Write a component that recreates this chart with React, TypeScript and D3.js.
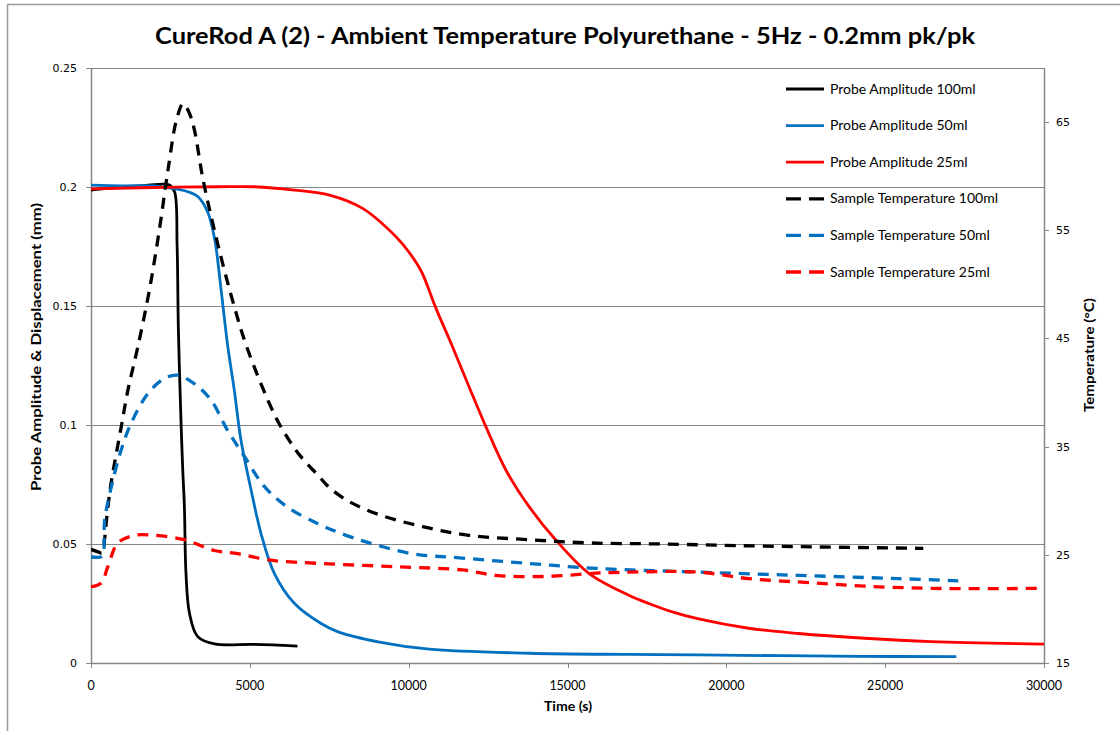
import React from "react";
import * as d3 from "d3";

// ---- Data ----
const probe100T = [0, 600, 1200, 1800, 2470, 2630, 2710, 2750, 2840, 2890, 2940, 2990, 3100, 3360, 3890, 5140, 6500];
const probe100V = [0.1987, 0.1995, 0.2001, 0.2008, 0.2008, 0.198, 0.1756, 0.1406, 0.0986, 0.0807, 0.0657, 0.0377, 0.0209, 0.0111, 0.008, 0.0078, 0.0071];

const probe50T = [0, 1000, 2000, 2520, 3050, 3360, 3670, 3890, 4090, 4300, 4510, 4720, 5040, 5350, 5770, 6400, 7230, 7760, 9080, 10650, 13790, 16930, 19130, 24150, 27240];
const probe50V = [0.2008, 0.2005, 0.2005, 0.1995, 0.198, 0.196, 0.1896, 0.1784, 0.1574, 0.1336, 0.1147, 0.0937, 0.0727, 0.0545, 0.0377, 0.0251, 0.0167, 0.0132, 0.0088, 0.0058, 0.0041, 0.0036, 0.0034, 0.0028, 0.0027];

const probe25T = [0, 2000, 4000, 5140, 6400, 7510, 8550, 9600, 10000, 10400, 10860, 11380, 11900, 12430, 13060, 13790, 14630, 15670, 16930, 17560, 18300, 19130, 20700, 22270, 24360, 26460, 30000];
const probe25V = [0.1992, 0.1998, 0.2001, 0.2001, 0.1987, 0.1966, 0.191, 0.1791, 0.1728, 0.1645, 0.1490, 0.1329, 0.1161, 0.0993, 0.0811, 0.0657, 0.0517, 0.0377, 0.0285, 0.025, 0.0215, 0.0185, 0.0146, 0.0124, 0.0104, 0.009, 0.0079];

const temp100T = [0, 200, 350, 430, 480, 600, 700, 950, 1160, 1480, 1840, 2160, 2420, 2700, 2900, 3100, 3260, 3520, 3885, 4410, 4930, 5770, 6190, 6600, 7130, 7510, 8140, 9080, 10440, 11900, 13790, 15670, 18000, 21220, 26200];
const temp100C = [25.5, 25.3, 25.2, 26.5, 28.0, 31.0, 32.8, 36.8, 40.2, 44.3, 49.5, 55.2, 60.5, 65.3, 66.7, 65.8, 64.2, 59.8, 55.0, 49.0, 44.0, 38.0, 35.8, 34.1, 32.4, 31.2, 29.9, 28.7, 27.6, 26.8, 26.4, 26.1, 26.0, 25.8, 25.6];

const temp50T = [0, 300, 380, 430, 640, 950, 1270, 1790, 2310, 2730, 3260, 3780, 4300, 4830, 5460, 6190, 7130, 7760, 8760, 10120, 11690, 13790, 15880, 19130, 22270, 25410, 27300];
const temp50C = [24.8, 24.8, 25.0, 28.2, 31.3, 34.7, 37.2, 39.9, 41.3, 41.6, 40.8, 39.3, 36.5, 34.1, 31.3, 29.4, 27.9, 27.1, 26.1, 25.1, 24.7, 24.2, 23.75, 23.4, 23.1, 22.8, 22.6];

const temp25T = [0, 320, 530, 850, 1370, 2000, 2940, 3880, 4620, 5660, 7230, 9600, 11690, 12740, 14310, 15880, 16930, 19130, 20700, 22790, 24360, 26450, 30000];
const temp25C = [22.05, 22.4, 23.9, 26.1, 26.8, 26.8, 26.4, 25.4, 25.1, 24.5, 24.2, 23.9, 23.6, 23.1, 23.0, 23.3, 23.4, 23.4, 22.8, 22.4, 22.1, 21.9, 21.9];

const xTicks = [0, 5000, 10000, 15000, 20000, 25000, 30000];
const yLeftTicks = [0, 0.05, 0.1, 0.15, 0.2, 0.25];
const yRightTicks = [15, 25, 35, 45, 55, 65];

const legendLabels = [
  "Probe Amplitude 100ml",
  "Probe Amplitude 50ml",
  "Probe Amplitude 25ml",
  "Sample Temperature 100ml",
  "Sample Temperature 50ml",
  "Sample Temperature 25ml",
];

const BLACK = "#000000";
const BLUE = "#0070C0";
const RED = "#FF0000";
const GRID = "#868686";

export default function App() {
  const W = 1120;
  const H = 731;
  const left = 91;
  const right = 1044;
  const top = 68;
  const bottom = 663;

  const x = d3.scaleLinear().domain([0, 30000]).range([left, right]);
  const yL = d3.scaleLinear().domain([0, 0.25]).range([bottom, top]);
  const yR = d3.scaleLinear().domain([15, 70]).range([bottom, top]);

  const mk = (ts: number[], vs: number[], ys: d3.ScaleLinear<number, number>) =>
    d3
      .line<number>()
      .x((_, i) => x(ts[i]))
      .y((d) => ys(d))
      .curve(d3.curveCatmullRom.alpha(0.5))(vs) || "";

  const series = [
    { d: mk(probe100T, probe100V, yL), c: BLACK, dash: false },
    { d: mk(probe50T, probe50V, yL), c: BLUE, dash: false },
    { d: mk(probe25T, probe25V, yL), c: RED, dash: false },
    { d: mk(temp100T, temp100C, yR), c: BLACK, dash: true },
    { d: mk(temp50T, temp50C, yR), c: BLUE, dash: true },
    { d: mk(temp25T, temp25C, yR), c: RED, dash: true },
  ];

  const sans = "Lato, 'Open Sans', sans-serif";
  const tickFont = "'DejaVu Sans', Verdana, sans-serif";

  return (
    <svg width={W} height={H} style={{ position: "absolute", left: 0, top: 0, background: "#fff" }}>
      <rect x={0} y={0} width={W} height={H} fill="#fff" />
      <rect x={7.5} y={4.5} width={1130} height={740} fill="none" stroke="#9a9a9a" strokeWidth={1.5} />

      <text
        x={565}
        y={44}
        textAnchor="middle"
        fontFamily={sans}
        fontWeight="bold"
        fontSize={23}
        textLength={820}
        lengthAdjust="spacingAndGlyphs"
        fill="#000"
      >
        CureRod A (2) - Ambient Temperature Polyurethane - 5Hz - 0.2mm pk/pk
      </text>

      {/* gridlines */}
      {yLeftTicks.filter((t) => t > 0).map((t) => (
        <line key={"g" + t} x1={left} x2={right} y1={Math.round(yL(t)) + 0.5} y2={Math.round(yL(t)) + 0.5} stroke={GRID} strokeWidth={1} />
      ))}

      {/* axes */}
      <line x1={left + 0.5} x2={left + 0.5} y1={top} y2={bottom} stroke={GRID} strokeWidth={1.5} />
      <line x1={right + 0.5} x2={right + 0.5} y1={top} y2={bottom} stroke={GRID} strokeWidth={1.5} />
      <line x1={left} x2={right} y1={bottom + 0.5} y2={bottom + 0.5} stroke={GRID} strokeWidth={1.5} />

      {yLeftTicks.map((t) => (
        <g key={"l" + t}>
          <line x1={left - 5} x2={left} y1={Math.round(yL(t)) + 0.5} y2={Math.round(yL(t)) + 0.5} stroke={GRID} />
          <text x={77} y={yL(t) + 4} textAnchor="end" fontFamily={tickFont} fontSize={11} fill="#000">
            {String(t)}
          </text>
        </g>
      ))}
      {yRightTicks.map((t) => (
        <g key={"r" + t}>
          <line x1={right} x2={right + 5} y1={Math.round(yR(t)) + 0.5} y2={Math.round(yR(t)) + 0.5} stroke={GRID} />
          <text x={1056} y={yR(t) + 4} textAnchor="start" fontFamily={tickFont} fontSize={11} fill="#000">
            {String(t)}
          </text>
        </g>
      ))}
      {xTicks.map((t) => (
        <g key={"x" + t}>
          <line x1={Math.round(x(t)) + 0.5} x2={Math.round(x(t)) + 0.5} y1={bottom} y2={bottom + 5} stroke={GRID} />
          <text x={x(t)} y={690} textAnchor="middle" fontFamily={sans} fontSize={12.5} fill="#000">
            {String(t)}
          </text>
        </g>
      ))}

      {/* axis titles */}
      <text x={568} y={711} textAnchor="middle" fontFamily={sans} fontWeight="bold" fontSize={13.5} textLength={48} lengthAdjust="spacingAndGlyphs" fill="#000">
        Time (s)
      </text>
      <text
        transform={`translate(41,347) rotate(-90)`}
        textAnchor="middle"
        fontFamily={sans}
        fontWeight="bold"
        fontSize={13.5}
        textLength={288}
        lengthAdjust="spacingAndGlyphs"
        fill="#000"
      >
        Probe Amplitude &amp; Displacement (mm)
      </text>
      <text
        transform={`translate(1094,355) rotate(-90)`}
        textAnchor="middle"
        fontFamily={sans}
        fontWeight="bold"
        fontSize={13.5}
        textLength={114}
        lengthAdjust="spacingAndGlyphs"
        fill="#000"
      >
        Temperature (°C)
      </text>

      {/* series */}
      <defs>
        <clipPath id="clip">
          <rect x={left} y={top - 10} width={right - left + 3} height={bottom - top + 10} />
        </clipPath>
      </defs>
      <g clipPath="url(#clip)">
        {series.map((s, i) => (
          <path
            key={"s" + i}
            d={s.d}
            fill="none"
            stroke={s.c}
            strokeWidth={s.dash ? 3.3 : 2.8}
            strokeDasharray={s.dash ? "11,8" : undefined}
            strokeLinejoin="round"
          />
        ))}
      </g>

      {/* legend */}
      {legendLabels.map((lab, i) => {
        const yy = 89 + i * 36.6;
        const c = [BLACK, BLUE, RED][i % 3];
        const dash = i >= 3;
        return (
          <g key={"lg" + i}>
            <line
              x1={786}
              x2={824}
              y1={yy}
              y2={yy}
              stroke={c}
              strokeWidth={dash ? 3.3 : 2.8}
              strokeDasharray={dash ? "15,8" : undefined}
            />
            <text x={830} y={yy + 4.5} fontFamily={sans} fontSize={14} fill="#000">
              {lab}
            </text>
          </g>
        );
      })}
    </svg>
  );
}
